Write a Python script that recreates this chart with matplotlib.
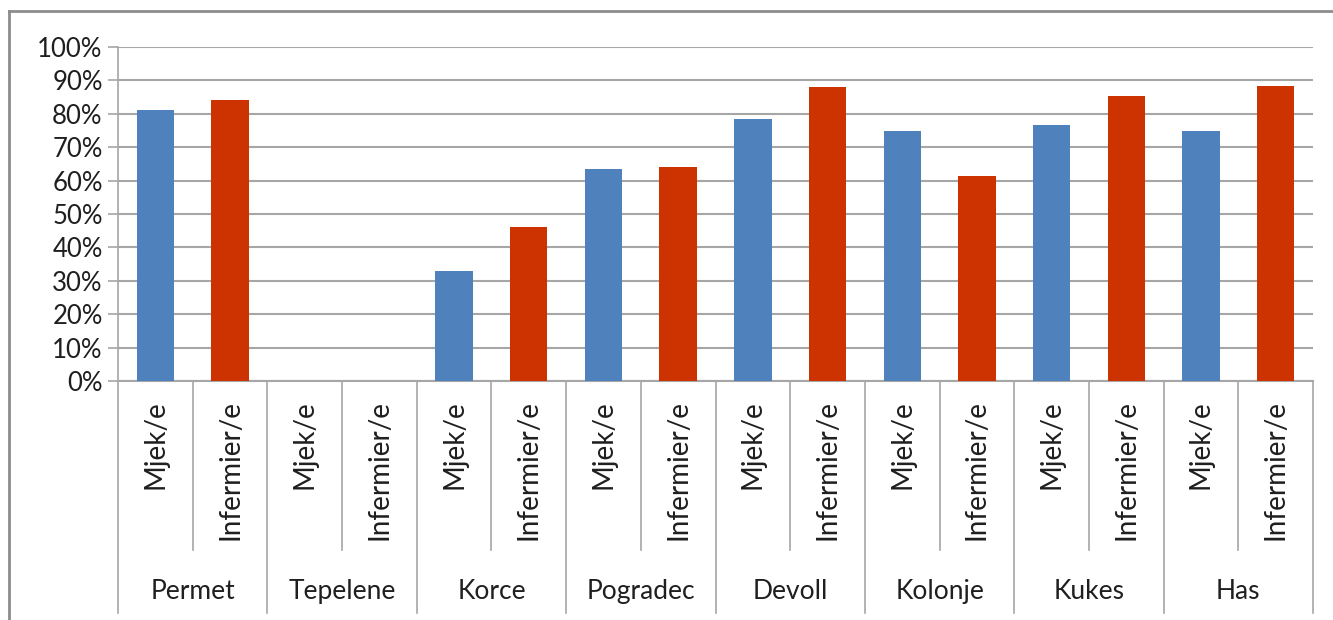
import matplotlib.pyplot as plt
from matplotlib.lines import Line2D
from matplotlib.ticker import PercentFormatter
import matplotlib.transforms as mtransforms

# Data (percent)
districts = ['Permet', 'Tepelene', 'Korce', 'Pogradec', 'Devoll', 'Kolonje', 'Kukes', 'Has']
roles = ['Mjek/e', 'Infermier/e']
mjek = [81.2, 0, 32.9, 63.6, 78.5, 74.9, 76.6, 74.9]
infermier = [84.0, 0, 46.1, 64.0, 88.0, 61.3, 85.2, 88.4]

blue = '#4F81BD'
red = '#CC3300'
grid_col = '#A6A6A6'
text_col = '#1F1F1F'

plt.rcParams['font.family'] = ['Lato', 'DejaVu Sans']

fig = plt.figure(figsize=(13.33, 6.2), dpi=100)
ax = fig.add_axes([118 / 1333, 1 - 381 / 620, (1313 - 118) / 1333, (381 - 47) / 620])

# two slots per district: Mjek/e then Infermier/e
x_m = [2 * i for i in range(len(districts))]
x_i = [2 * i + 1 for i in range(len(districts))]
ax.bar(x_m, mjek, width=0.5, color=blue, zorder=3)
ax.bar(x_i, infermier, width=0.5, color=red, zorder=3)

n_slots = 2 * len(districts)
ax.set_xlim(-0.5, n_slots - 0.5)
ax.set_ylim(0, 100)
ax.set_yticks(range(0, 101, 10))
ax.yaxis.set_major_formatter(PercentFormatter(decimals=0))
ax.grid(axis='y', color=grid_col, linewidth=1.5, zorder=0)
ax.tick_params(axis='y', length=7, width=1.2, color=grid_col, labelsize=18.5,
               labelcolor=text_col, pad=4)

ax.set_xticks(list(range(n_slots)))
ax.set_xticklabels(roles * len(districts), rotation=90, fontsize=20, color=text_col)
ax.tick_params(axis='x', length=0, pad=14)

for side in ['top', 'right']:
    ax.spines[side].set_visible(False)
ax.spines['left'].set_color(grid_col)
ax.spines['left'].set_linewidth(1.2)
ax.spines['bottom'].set_color(grid_col)
ax.spines['bottom'].set_linewidth(1.5)

# category divider lines below the axis
trans = mtransforms.blended_transform_factory(ax.transData, ax.transAxes)
for k in range(n_slots + 1):
    xb = k - 0.5
    y_end = -0.695 if k % 2 == 0 else -0.506
    ax.add_line(Line2D([xb, xb], [0, y_end], transform=trans, color=grid_col,
                       linewidth=1.2, clip_on=False))

# district labels
for i, name in enumerate(districts):
    ax.text(2 * i + 0.5, -0.629, name, transform=trans, ha='center', va='center',
            fontsize=19, color=text_col)

# outer chart frame (left and top edges visible)
fig.add_artist(Line2D([9 / 1333, 9 / 1333], [0, 1 - 11 / 620], transform=fig.transFigure,
                      color='#8C8C8C', linewidth=2))
fig.add_artist(Line2D([9 / 1333, 1], [1 - 11 / 620, 1 - 11 / 620], transform=fig.transFigure,
                      color='#8C8C8C', linewidth=2))

fig.savefig('out.png', dpi=100)
